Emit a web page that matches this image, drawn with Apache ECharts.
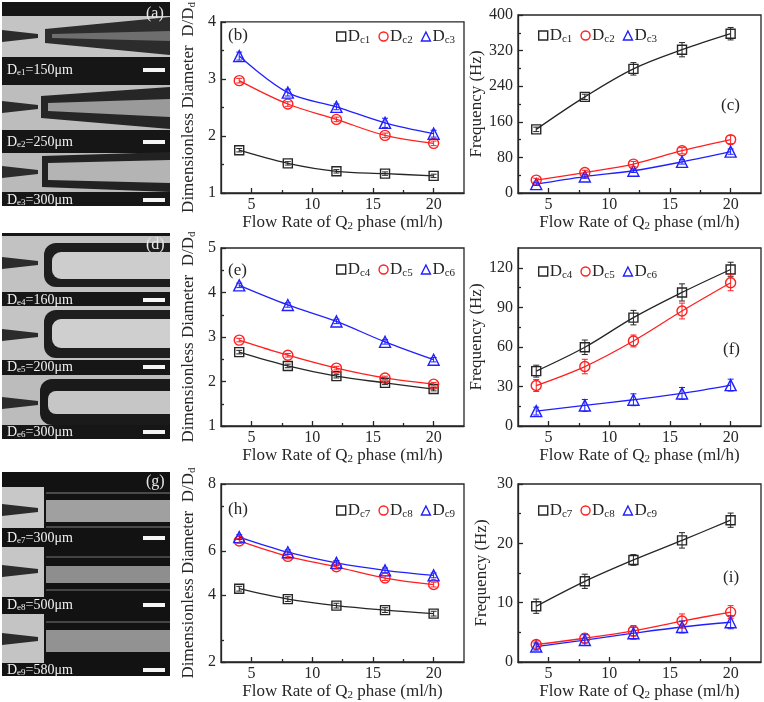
<!DOCTYPE html>
<html>
<head>
<meta charset="utf-8">
<script src="https://cdn.jsdelivr.net/npm/echarts@6/dist/echarts.min.js"></script>
<style>
  html, body { margin: 0; padding: 0; background: #fff; }
  #main { width: 764px; height: 702px; }
</style>
</head>
<body>
<div id="main"></div>
<script>
// flow rate of Q2 phase (ml/h), same for every panel
const flowRate = [4, 8, 12, 16, 20];
const xTicks = [5, 10, 15, 20];
const xMinorTicks = [7.5, 12.5, 17.5];

// (b) dimensionless diameter, capillaries De1..De3
const diamDc1 = [1.75, 1.52, 1.38, 1.34, 1.30];
const diamDc2 = [2.97, 2.56, 2.29, 2.01, 1.87];
const diamDc3 = [3.40, 2.76, 2.51, 2.23, 2.04];
const diamErrDc1 = [0.03, 0.03, 0.03, 0.03, 0.03];
const diamErrDc2 = [0.04, 0.04, 0.04, 0.04, 0.04];
const diamErrDc3 = [0.07, 0.06, 0.05, 0.08, 0.06];
// (c) frequency
const freqDc1 = [143, 216, 279, 322, 358];
const freqDc2 = [29, 46, 65, 95, 120];
const freqDc3 = [20, 37, 50, 70, 93];
const freqErrDc1 = [5, 6, 14, 16, 14];
const freqErrDc2 = [4, 5, 6, 7, 9];
const freqErrDc3 = [3, 4, 4, 5, 6];

// (e) dimensionless diameter, De4..De6
const diamDc4 = [2.66, 2.35, 2.12, 1.97, 1.83];
const diamDc5 = [2.93, 2.59, 2.30, 2.08, 1.94];
const diamDc6 = [4.16, 3.72, 3.35, 2.89, 2.49];
const diamErrDc4 = [0.04, 0.04, 0.04, 0.04, 0.04];
const diamErrDc5 = [0.04, 0.04, 0.04, 0.04, 0.04];
const diamErrDc6 = [0.05, 0.05, 0.05, 0.05, 0.05];
// (f) frequency
const freqDc4 = [41.6, 59.7, 82.2, 101.3, 118.7];
const freqDc5 = [30.7, 45.1, 64.5, 87.2, 108.6];
const freqDc6 = [11.3, 15.6, 19.9, 24.7, 31.0];
const freqErrDc4 = [4.5, 5.5, 5.5, 6.5, 5.5];
const freqErrDc5 = [4.5, 5.5, 4.5, 6.0, 6.0];
const freqErrDc6 = [3.0, 4.5, 4.5, 4.5, 4.5];

// (h) dimensionless diameter, De7..De9
const diamDc7 = [4.47, 4.12, 3.90, 3.75, 3.63];
const diamDc8 = [6.08, 5.56, 5.21, 4.83, 4.61];
const diamDc9 = [6.21, 5.70, 5.34, 5.09, 4.92];
const diamErrDc7 = [0.08, 0.08, 0.08, 0.08, 0.08];
const diamErrDc8 = [0.08, 0.08, 0.08, 0.08, 0.08];
const diamErrDc9 = [0.08, 0.08, 0.08, 0.08, 0.08];
// (i) frequency
const freqDc7 = [9.4, 13.6, 17.2, 20.5, 23.9];
const freqDc8 = [2.95, 4.0, 5.25, 6.9, 8.4];
const freqDc9 = [2.6, 3.7, 4.85, 5.9, 6.7];
const freqErrDc7 = [1.2, 1.2, 0.9, 1.3, 1.2];
const freqErrDc8 = [0.6, 0.8, 0.9, 1.2, 1.1];
const freqErrDc9 = [0.6, 0.9, 1.0, 1.0, 1.1];

// y tick values per panel
const yTicksB = [1, 2, 3, 4], yMinorB = [1.5, 2.5, 3.5];
const yTicksC = [0, 80, 160, 240, 320, 400], yMinorC = [40, 120, 200, 280, 360];
const yTicksE = [1, 2, 3, 4, 5], yMinorE = [1.5, 2.5, 3.5, 4.5];
const yTicksF = [0, 30, 60, 90, 120], yMinorF = [15, 45, 75, 105];
// the (h) axis in the original is unevenly labelled
const yTicksH = [2, 4.25, 5.75, 8], yTickNamesH = ['2', '4', '6', '8'], yMinorH = [2.75, 7.25];
const yTicksI = [0, 10, 20, 30], yMinorI = [5, 15, 25];

// capillary sizes for the photo panels
const photoLabels = [
  ['e1', '150'], ['e2', '250'], ['e3', '300'],
  ['e4', '160'], ['e5', '200'], ['e6', '300'],
  ['e7', '300'], ['e8', '500'], ['e9', '580']
];

const FONT = 'Liberation Serif';
const BLACK = '#262626', RED = '#ff1f1f', BLUE = '#2020ff';
const DIAM_NAME = '{a|Dimensionless Diameter  D/D}{s|d}';
const FREQ_NAME = '{a|Frequency (Hz)}';
const X_NAME = '{a|Flow Rate of Q}{s|2}{a| phase (ml/h)}';

const charts = [
  { box: [221, 15, 243, 178], y: [1, 4], ticks: yTicksB, minor: yMinorB, name: DIAM_NAME, gap: 23,
    tag: '(b)', tagPos: [228, 27], legendPos: [336, 28],
    lines: [['Dc1', diamDc1, diamErrDc1, BLACK, 'rect'], ['Dc2', diamDc2, diamErrDc2, RED, 'circle'], ['Dc3', diamDc3, diamErrDc3, BLUE, 'triangle']] },
  { box: [518, 15, 243, 178], y: [0, 400], ticks: yTicksC, minor: yMinorC, name: FREQ_NAME, gap: 28,
    tag: '(c)', tagPos: [721, 97], legendPos: [538, 27],
    lines: [['Dc1', freqDc1, freqErrDc1, BLACK, 'rect'], ['Dc2', freqDc2, freqErrDc2, RED, 'circle'], ['Dc3', freqDc3, freqErrDc3, BLUE, 'triangle']] },
  { box: [221, 248, 243, 178], y: [1, 5], ticks: yTicksE, minor: yMinorE, name: DIAM_NAME, gap: 23,
    tag: '(e)', tagPos: [228, 262], legendPos: [336, 261],
    lines: [['Dc4', diamDc4, diamErrDc4, BLACK, 'rect'], ['Dc5', diamDc5, diamErrDc5, RED, 'circle'], ['Dc6', diamDc6, diamErrDc6, BLUE, 'triangle']] },
  { box: [518, 248, 243, 178], y: [0, 135], ticks: yTicksF, minor: yMinorF, name: FREQ_NAME, gap: 28,
    tag: '(f)', tagPos: [723, 341], legendPos: [538, 263],
    lines: [['Dc4', freqDc4, freqErrDc4, BLACK, 'rect'], ['Dc5', freqDc5, freqErrDc5, RED, 'circle'], ['Dc6', freqDc6, freqErrDc6, BLUE, 'triangle']] },
  { box: [221, 484, 243, 179], y: [2, 8], ticks: yTicksH, minor: yMinorH, tickNames: yTickNamesH, name: DIAM_NAME, gap: 23,
    tag: '(h)', tagPos: [228, 501], legendPos: [336, 502],
    lines: [['Dc7', diamDc7, diamErrDc7, BLACK, 'rect'], ['Dc8', diamDc8, diamErrDc8, RED, 'circle'], ['Dc9', diamDc9, diamErrDc9, BLUE, 'triangle']] },
  { box: [518, 484, 243, 179], y: [0, 30], ticks: yTicksI, minor: yMinorI, name: FREQ_NAME, gap: 28,
    tag: '(i)', tagPos: [723, 569], legendPos: [538, 502],
    lines: [['Dc7', freqDc7, freqErrDc7, BLACK, 'rect'], ['Dc8', freqDc8, freqErrDc8, RED, 'circle'], ['Dc9', freqDc9, freqErrDc9, BLUE, 'triangle']] }
];

const SYMBOL_SIZE = { rect: 9, circle: 10, triangle: 11 };
const nameRich = {
  a: { fontFamily: FONT, fontSize: 17, color: BLACK },
  s: { fontFamily: FONT, fontSize: 11, color: BLACK, padding: [8, 0, 0, 0] }
};
const tickLine = { color: BLACK, width: 1.3 };

const grid = [], xAxis = [], yAxis = [], series = [], legend = [], graphic = [];

charts.forEach(function (c, i) {
  grid.push({ left: c.box[0], top: c.box[1], width: c.box[2], height: c.box[3],
    show: true, borderColor: BLACK, borderWidth: 1.3 });

  xAxis.push({
    type: 'value', gridIndex: i, min: 2.5, max: 22.5, position: 'bottom',
    axisLine: { show: true, onZero: false, lineStyle: tickLine },
    axisTick: { show: true, inside: true, length: 5, customValues: xTicks, lineStyle: tickLine },
    axisLabel: { customValues: xTicks, fontFamily: FONT, fontSize: 16, color: BLACK, margin: 4 },
    splitLine: { show: false },
    name: X_NAME, nameLocation: 'middle', nameGap: 20,
    nameTextStyle: { rich: nameRich }
  });
  xAxis.push({
    type: 'value', gridIndex: i, min: 2.5, max: 22.5, position: 'bottom',
    axisLine: { show: false }, axisLabel: { show: false }, splitLine: { show: false },
    axisTick: { show: true, inside: true, length: 3, customValues: xMinorTicks, lineStyle: tickLine }
  });

  const names = c.tickNames;
  yAxis.push({
    type: 'value', gridIndex: i, min: c.y[0], max: c.y[1], position: 'left',
    axisLine: { show: true, onZero: false, lineStyle: tickLine },
    axisTick: { show: true, inside: true, length: 5, customValues: c.ticks, lineStyle: tickLine },
    axisLabel: {
      customValues: c.ticks, fontFamily: FONT, fontSize: 16, color: BLACK, margin: 5,
      formatter: function (v) {
        if (!names) return String(v);
        const k = c.ticks.findIndex(function (t) { return Math.abs(t - v) < 1e-6; });
        return k >= 0 ? names[k] : '';
      }
    },
    splitLine: { show: false },
    name: c.name, nameLocation: 'middle', nameGap: c.gap,
    nameTextStyle: { rich: nameRich }
  });
  yAxis.push({
    type: 'value', gridIndex: i, min: c.y[0], max: c.y[1], position: 'left',
    axisLine: { show: false }, axisLabel: { show: false }, splitLine: { show: false },
    axisTick: { show: true, inside: true, length: 3, customValues: c.minor, lineStyle: tickLine }
  });

  c.lines.forEach(function (l) {
    const name = l[0], vals = l[1], err = l[2], color = l[3], sym = l[4];
    series.push({
      type: 'line', name: name, xAxisIndex: 2 * i, yAxisIndex: 2 * i,
      data: flowRate.map(function (x, k) { return [x, vals[k]]; }),
      smooth: 0.35, symbol: sym, symbolSize: SYMBOL_SIZE[sym],
      lineStyle: { color: color, width: 1.3 },
      itemStyle: { color: 'rgba(0,0,0,0)', borderColor: color, borderWidth: 1.4 },
      emphasis: { disabled: true }, z: 3
    });
    series.push({
      type: 'custom', xAxisIndex: 2 * i, yAxisIndex: 2 * i, silent: true, z: 4,
      data: flowRate.map(function (x, k) { return [x, vals[k] - err[k], vals[k] + err[k]]; }),
      encode: { x: 0, y: [1, 2] },
      renderItem: function (params, api) {
        const lo = api.coord([api.value(0), api.value(1)]);
        const hi = api.coord([api.value(0), api.value(2)]);
        const st = { stroke: color, lineWidth: 1 };
        return { type: 'group', children: [
          { type: 'line', shape: { x1: lo[0], y1: lo[1], x2: hi[0], y2: hi[1] }, style: st },
          { type: 'line', shape: { x1: lo[0] - 3, y1: lo[1], x2: lo[0] + 3, y2: lo[1] }, style: st },
          { type: 'line', shape: { x1: hi[0] - 3, y1: hi[1], x2: hi[0] + 3, y2: hi[1] }, style: st }
        ] };
      }
    });
  });

  legend.push({
    left: c.legendPos[0], top: c.legendPos[1], orient: 'horizontal', padding: 0,
    itemWidth: 9, itemHeight: 9, itemGap: 8, selectedMode: false,
    data: c.lines.map(function (l) {
      return { name: l[0], icon: l[4],
        itemStyle: { color: 'rgba(0,0,0,0)', borderColor: l[3], borderWidth: 1.4 } };
    }),
    formatter: function (n) { return '{d|D}{s|' + n.slice(1) + '}'; },
    textStyle: { padding: [0, 0, 0, -3], rich: {
      d: { fontFamily: FONT, fontSize: 17, color: BLACK },
      s: { fontFamily: FONT, fontSize: 11, color: BLACK, padding: [8, 0, 0, 0] }
    } }
  });

  graphic.push({ type: 'text', left: c.tagPos[0], top: c.tagPos[1],
    style: { text: c.tag, fontFamily: FONT, fontSize: 17, fill: BLACK } });
});

// ---- micrograph panels (a), (d), (g): drawn as simple shapes ----
function rect(x, y, w, h, fill, r) {
  return { type: 'rect', shape: { x: x, y: y, width: w, height: h, r: r || 0 }, style: { fill: fill }, silent: true };
}
function poly(pts, fill) {
  return { type: 'polygon', shape: { points: pts }, style: { fill: fill }, silent: true };
}
function capLabel(k, y) {
  const lab = photoLabels[k];
  return [
    { type: 'text', x: 7, y: y, silent: true,
      style: { text: '{a|D}{s|' + lab[0] + '}{a|=' + lab[1] + 'μm}', verticalAlign: 'middle',
        rich: { a: { fontFamily: FONT, fontSize: 14, fill: '#f2f2f2' },
                s: { fontFamily: FONT, fontSize: 9, fill: '#f2f2f2', padding: [6, 0, 0, 0] } } } },
    rect(143, y - 2, 22, 4, '#f5f5f5')
  ];
}
function nozzle(yc) {
  return poly([[2, yc - 6], [38, yc - 2], [38, yc + 2], [2, yc + 6]], '#2b2b2b');
}
function panelTag(t, y) {
  return { type: 'text', x: 146, y: y, silent: true,
    style: { text: t, fontFamily: FONT, fontSize: 16, fill: '#e6e6e6', verticalAlign: 'middle' } };
}

// (a) tapered capillaries
graphic.push(rect(2, 2, 168, 204, '#161616'));
graphic.push(rect(2, 16, 168, 41, '#c4c4c4'), nozzle(36),
  poly([[45, 29], [170, 17], [170, 55], [45, 43]], '#2c2c2c'),
  poly([[52, 34], [170, 31], [170, 41], [52, 38]], '#6e6e6e'));
graphic.push(rect(2, 85, 168, 45, '#bdbdbd'), nozzle(107),
  poly([[41, 96], [170, 87], [170, 129], [41, 118]], '#262626'),
  poly([[48, 103], [170, 99], [170, 117], [48, 111]], '#9a9a9a'));
graphic.push(rect(2, 153, 168, 39, '#bababa'), nozzle(172),
  poly([[42, 156], [170, 152], [170, 192], [42, 187]], '#222'),
  poly([[48, 163], [170, 160], [170, 183], [48, 180]], '#b4b4b4'));
graphic.push.apply(graphic, capLabel(0, 70).concat(capLabel(1, 142), capLabel(2, 200)));
graphic.push(panelTag('(a)', 14));

// (d) rounded collection tubes
graphic.push(rect(2, 233, 168, 206, '#161616'));
graphic.push(rect(2, 236, 168, 56, '#c2c2c2'), rect(44, 243, 126, 44, '#1e1e1e', [12, 0, 0, 12]),
  rect(52, 252, 118, 27, '#cdcdcd', [9, 0, 0, 9]), nozzle(263));
graphic.push(rect(2, 306, 168, 54, '#c4c4c4'), rect(44, 310, 126, 48, '#1e1e1e', [12, 0, 0, 12]),
  rect(52, 319, 118, 29, '#cfcfcf', [9, 0, 0, 9]), nozzle(335));
graphic.push(rect(2, 375, 168, 50, '#bcbcbc'), rect(40, 379, 130, 46, '#1a1a1a', [12, 0, 0, 12]),
  rect(48, 391, 122, 23, '#c6c6c6', [8, 0, 0, 8]), nozzle(403));
graphic.push.apply(graphic, capLabel(3, 300).concat(capLabel(4, 367), capLabel(5, 432)));
graphic.push(panelTag('(d)', 245));

// (g) straight channels
graphic.push(rect(2, 472, 168, 204, '#121212'));
graphic.push(rect(2, 487, 42, 41, '#c8c8c8'), rect(46, 492, 124, 2, '#4a4a4a'),
  rect(46, 500, 124, 22, '#a0a0a0'), rect(46, 526, 124, 2, '#4a4a4a'), nozzle(510));
graphic.push(rect(2, 547, 42, 50, '#c6c6c6'), rect(46, 556, 124, 2, '#444'),
  rect(46, 566, 124, 17, '#8e8e8e'), rect(46, 589, 124, 2, '#444'), nozzle(571));
graphic.push(rect(2, 614, 42, 49, '#c4c4c4'), rect(46, 621, 124, 2, '#444'),
  rect(46, 630, 124, 22, '#929292'), nozzle(639));
graphic.push.apply(graphic, capLabel(6, 538).concat(capLabel(7, 605), capLabel(8, 670)));
graphic.push(panelTag('(g)', 482));

const chart = echarts.init(document.getElementById('main'), null, { renderer: 'canvas' });
chart.setOption({
  backgroundColor: '#fff',
  animation: false,
  grid: grid, xAxis: xAxis, yAxis: yAxis,
  legend: legend, series: series, graphic: graphic
});
</script>
</body>
</html>
